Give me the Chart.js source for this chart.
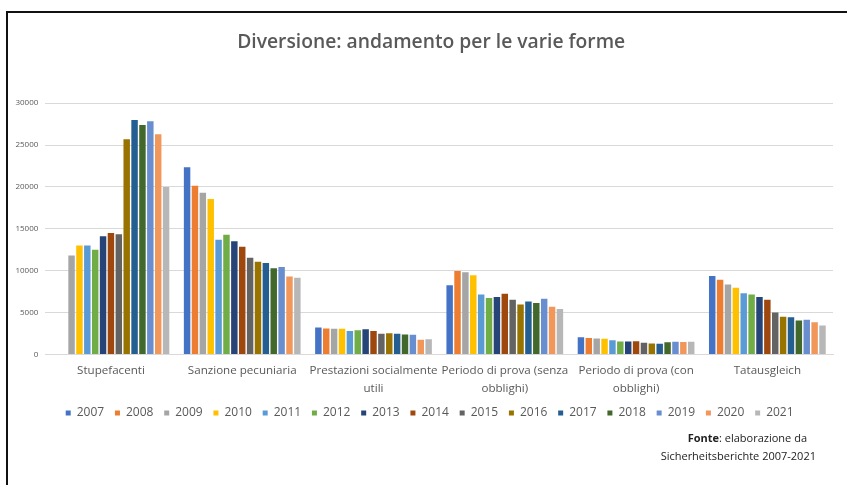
<!DOCTYPE html>
<html>
<head>
<meta charset="utf-8">
<script src="https://cdn.jsdelivr.net/npm/chart.js@4/dist/chart.umd.min.js"></script>
<style>
    html, body { margin: 0; padding: 0; background: #fff; overflow: hidden; }
    body { width: 847px; height: 485px; position: relative; }
    .frame {
        position: absolute; left: 6px; top: 11px; width: 860px; height: 490px;
        border-left: 2px solid #111; border-top: 2px solid #111;
    }
    .chart-box { position: absolute; left: 0; top: 0; width: 846px; height: 472px; }
    .source {
        position: absolute; font-family: 'Open Sans', sans-serif; font-size: 11px;
        color: #222; white-space: nowrap; text-align: right;
    }
</style>
</head>
<body>
<div class="frame">
    <div class="chart-box"><canvas id="diversioneChart"></canvas></div>
</div>
<div class="source" style="right: 40px; top: 430px;"><b>Fonte</b>: elaborazione da</div>
<div class="source" style="right: 31px; top: 448px;">Sicherheitsberichte 2007-2021</div>

<script>
// categorie (forme di diversione)
const categories = [
    'Stupefacenti',
    'Sanzione pecuniaria',
    ['Prestazioni socialmente', 'utili'],
    ['Periodo di prova (senza', 'obblighi)'],
    ['Periodo di prova (con', 'obblighi)'],
    'Tatausgleich'
];

const years = ['2007', '2008', '2009', '2010', '2011', '2012', '2013', '2014',
               '2015', '2016', '2017', '2018', '2019', '2020', '2021'];

// valori per anno, nell'ordine delle categorie
const v2007 = [null, 22350, 3200, 8250, 2050, 9350];
const v2008 = [null, 20150, 3100, 9950, 1970, 8900];
const v2009 = [11800, 19300, 3050, 9800, 1900, 8350];
const v2010 = [13000, 18550, 3050, 9450, 1870, 7950];
const v2011 = [13000, 13700, 2800, 7150, 1700, 7300];
const v2012 = [12500, 14300, 2880, 6720, 1550, 7150];
const v2013 = [14100, 13500, 3000, 6850, 1540, 6850];
const v2014 = [14500, 12850, 2800, 7250, 1580, 6530];
const v2015 = [14350, 11550, 2480, 6530, 1380, 5000];
const v2016 = [25700, 11050, 2520, 5950, 1300, 4500];
const v2017 = [28000, 10900, 2470, 6330, 1260, 4430];
const v2018 = [27400, 10300, 2370, 6130, 1450, 4040];
const v2019 = [27850, 10450, 2350, 6650, 1500, 4150];
const v2020 = [26300, 9300, 1750, 5700, 1490, 3850];
const v2021 = [20000, 9150, 1800, 5420, 1520, 3450];

const yearValues = [v2007, v2008, v2009, v2010, v2011, v2012, v2013, v2014,
                    v2015, v2016, v2017, v2018, v2019, v2020, v2021];

const yearColors = ['#4472C4', '#ED7D31', '#A5A5A5', '#FFC000', '#5B9BD5', '#70AD47',
                    '#264478', '#9E480E', '#636363', '#997300', '#255E91', '#43682B',
                    '#698ED0', '#F1975A', '#B7B7B7'];

const yTicks = [0, 5000, 10000, 15000, 20000, 25000, 30000];

const textGray = '#595959';
const gridGray = '#D9D9D9';

Chart.defaults.font.family = "'Open Sans', sans-serif";
Chart.defaults.color = textGray;

// title and legend sit a bit right of the plot centre, legend closer to the axis labels
const nudgeBoxes = {
    id: 'nudgeBoxes',
    afterLayout(chart) {
        if (chart.titleBlock) { chart.titleBlock.left += 7.5; chart.titleBlock.right += 7.5; }
        if (chart.legend) {
            chart.legend.left += 6; chart.legend.right += 6;
            chart.legend.top -= 9; chart.legend.bottom -= 9;
        }
    }
};

const datasets = years.map((yr, i) => ({
    label: yr,
    data: yearValues[i],
    backgroundColor: yearColors[i],
    borderWidth: 0,
    categoryPercentage: 0.9,
    barPercentage: 0.82
}));

new Chart(document.getElementById('diversioneChart'), {
    type: 'bar',
    data: { labels: categories, datasets: datasets },
    plugins: [nudgeBoxes],
    options: {
        responsive: true,
        maintainAspectRatio: false,
        animation: false,
        layout: { padding: { left: 6.3, right: 21, top: 0, bottom: 47 } },
        plugins: {
            title: {
                display: true,
                text: 'Diversione: andamento per le varie forme',
                color: textGray,
                font: { size: 19.3, weight: '600' },
                padding: { top: 18, bottom: 49 }
            },
            legend: {
                position: 'bottom',
                labels: {
                    boxWidth: 5,
                    boxHeight: 5,
                    padding: 10.8,
                    color: textGray,
                    font: { size: 12 }
                }
            },
            tooltip: { enabled: false }
        },
        scales: {
            x: {
                grid: { display: false, drawTicks: false },
                border: { display: true, color: gridGray },
                ticks: {
                    autoSkip: false,
                    maxRotation: 0,
                    minRotation: 0,
                    padding: 8,
                    color: textGray,
                    font: { size: 11.6, lineHeight: 1.5 }
                }
            },
            y: {
                min: 0,
                max: 30000,
                afterBuildTicks: axis => { axis.ticks = yTicks.map(v => ({ value: v })); },
                afterFit: axis => { axis.width = 31; },
                grid: { color: gridGray, drawTicks: false },
                border: { display: false },
                ticks: {
                    padding: 7,
                    color: textGray,
                    font: { size: 8 },
                    callback: v => String(v)
                }
            }
        }
    }
});
</script>
</body>
</html>
